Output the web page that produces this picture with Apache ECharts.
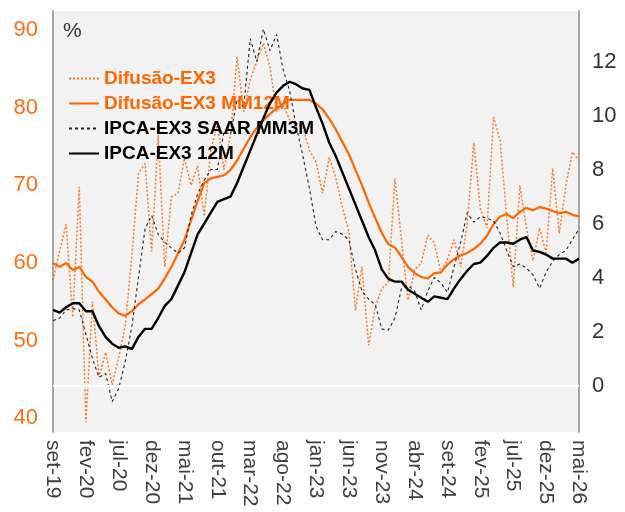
<!DOCTYPE html>
<html>
<head>
<meta charset="utf-8">
<script src="https://cdn.jsdelivr.net/npm/echarts@6/dist/echarts.min.js"></script>
<style>
  html, body { margin: 0; padding: 0; background: #fff; }
  #chart { width: 625px; height: 512px; }
</style>
</head>
<body>
<div id="chart"></div>
<script>
// 月份缩写（葡萄牙语），set-19 到 mai-26，每月一个点
const monthNames = ['jan', 'fev', 'mar', 'abr', 'mai', 'jun', 'jul', 'ago', 'set', 'out', 'nov', 'dez'];
const categories = [];
for (let k = 0; k < 81; k++) {
  const m = (8 + k) % 12;
  const y = 19 + Math.floor((8 + k) / 12);
  categories.push(monthNames[m] + '-' + y);
}

// Difusão-EX3（左轴）
const difusao = [
  57.8, 61.5, 65.0, 53.0, 69.8, 39.5, 55.0, 45.3, 48.5, 44.3,
  47.9, 52.0, 61.0, 71.5, 72.8, 61.5, 76.5, 59.5, 68.5, 69.0,
  73.5, 70.0, 72.5, 66.0, 74.5, 78.0, 72.0, 76.5, 86.5, 79.5,
  83.6, 86.0, 88.3, 85.2, 79.5, 80.5, 78.4, 78.0, 77.5, 74.5,
  73.0, 69.0, 73.6, 71.0, 67.2, 64.0, 53.9, 59.5, 49.4, 54.3,
  56.7, 57.5, 70.9, 63.0, 55.2, 59.1, 60.0, 63.6, 62.6, 58.7,
  60.5, 63.0, 59.5, 65.0, 75.5, 67.0, 64.5, 78.8, 75.8, 66.0,
  56.9, 70.0, 64.6, 60.3, 64.5, 61.3, 72.2, 63.8, 70.0, 74.3, 73.2
];

// Difusão-EX3 MM12M（左轴）
const difusaoMM12 = [
  60.0, 59.5, 60.0, 59.1, 59.5, 58.2, 57.6, 56.3, 55.3, 54.3,
  53.5, 53.2, 53.8, 54.7, 55.3, 56.0, 56.7, 58.0, 59.5, 61.2,
  63.0, 65.5, 68.0, 70.3, 70.9, 71.1, 71.3, 72.0, 73.2, 74.7,
  76.2, 77.4, 78.4, 79.2, 79.9, 80.5, 81.0, 81.0, 81.0, 81.0,
  80.5, 79.8, 78.6, 77.2, 75.6, 74.0, 72.0, 70.0, 67.8, 65.8,
  63.9, 62.4, 62.0, 60.8, 59.5, 58.7, 58.2, 58.0, 58.7, 58.8,
  59.8, 60.5, 61.0, 61.3, 61.8, 62.5, 63.5, 65.0, 66.0, 66.3,
  65.8, 66.6, 67.1, 66.8, 67.2, 67.0, 66.7, 66.4, 66.6, 66.2, 66.0
];

// IPCA-EX3 SAAR MM3M（右轴）
const ipcaSaar = [
  2.4, 2.5, 2.8, 2.85, 2.8, 1.9, 1.0, 0.3, 0.45, -0.6,
  -0.1, 0.9, 2.2, 4.0, 5.8, 6.3, 5.6, 5.3, 5.1, 4.9,
  5.1, 6.3, 7.1, 7.6, 8.0, 8.0, 9.4, 9.3, 10.6, 10.3,
  12.85, 12.0, 13.2, 12.4, 13.0, 11.7, 10.9, 9.6, 8.5, 7.3,
  5.9, 5.4, 5.4, 5.7, 5.6, 5.4, 4.3, 3.5, 3.2, 3.0,
  2.1, 2.05, 2.5, 3.6, 3.7, 3.5, 2.8, 3.5, 4.0, 3.8,
  3.45, 4.4, 5.3, 6.4, 6.05, 6.25, 6.2, 6.1, 5.65, 5.0,
  4.4, 4.5, 4.35, 4.1, 3.6, 4.2, 4.6, 4.85, 5.0, 5.4, 5.8
];

// IPCA-EX3 12M（右轴）
const ipca12 = [
  2.8, 2.7, 2.9, 3.05, 3.05, 2.75, 2.75, 2.2, 1.8, 1.55,
  1.4, 1.45, 1.35, 1.8, 2.1, 2.1, 2.5, 2.95, 3.2, 3.7,
  4.2, 4.9, 5.6, 6.0, 6.4, 6.8, 6.9, 7.0, 7.5, 8.1,
  8.7, 9.3, 9.9, 10.45, 10.85, 11.1, 11.25, 11.15, 11.0, 10.95,
  10.3, 9.7, 9.0, 8.5, 7.9, 7.3, 6.7, 6.1, 5.5, 5.0,
  4.3, 3.95, 3.85, 3.85, 3.55, 3.4, 3.25, 3.1, 3.3, 3.25,
  3.2, 3.6, 3.95, 4.25, 4.5, 4.55, 4.8, 5.1, 5.3, 5.3,
  5.25, 5.4, 5.5, 5.0, 4.95, 4.85, 4.7, 4.7, 4.7, 4.55, 4.7
];

const ORANGE = '#FF6600';
const FONT = 'Liberation Sans, Arial, sans-serif';

const chart = echarts.init(document.getElementById('chart'));

const option = {
  animation: false,
  textStyle: { fontFamily: FONT },
  grid: {
    left: 53, right: 46, top: 11, bottom: 80,
    show: true, backgroundColor: '#f2f2f2', borderWidth: 0
  },
  graphic: [{
    type: 'text', left: 63, top: 21,
    style: { text: '%', fontSize: 21, fill: '#333', fontFamily: FONT }
  }],
  legend: {
    orient: 'vertical',
    left: 68, top: 69,
    padding: 0,
    itemGap: 6,
    itemWidth: 30,
    itemHeight: 12,
    itemStyle: { opacity: 0 }, // 图例只画线，不画圆点
    textStyle: { fontSize: 19, fontWeight: 'bold', fontFamily: FONT },
    data: [
      { name: 'Difusão-EX3', textStyle: { color: ORANGE } },
      { name: 'Difusão-EX3 MM12M', textStyle: { color: ORANGE } },
      { name: 'IPCA-EX3 SAAR MM3M', textStyle: { color: '#000' } },
      { name: 'IPCA-EX3 12M', textStyle: { color: '#000' } }
    ]
  },
  xAxis: {
    type: 'category',
    data: categories,
    boundaryGap: false,
    axisLine: { show: true, lineStyle: { color: '#a6a6a6', width: 2 } },
    axisTick: { show: false },
    splitLine: { show: false },
    axisLabel: {
      interval: 4, rotate: -90, margin: 8,
      fontSize: 21, color: '#404040', fontFamily: FONT
    }
  },
  yAxis: [
    {
      type: 'value', position: 'left',
      min: 38.24, max: 92.45, splitNumber: 5,
      axisLine: { show: true, lineStyle: { color: '#a6a6a6', width: 2 } },
      axisTick: { show: false },
      splitLine: { show: false },
      axisLabel: {
        margin: 15, fontSize: 22, color: '#FF6E14', fontFamily: FONT,
        showMinLabel: false, showMaxLabel: false,
        formatter: v => (Math.abs(v % 10) < 1e-6 ? String(Math.round(v)) : '')
      }
    },
    {
      type: 'value', position: 'right',
      min: -1.72, max: 13.87, splitNumber: 8,
      axisLine: { show: true, lineStyle: { color: '#a6a6a6', width: 2 } },
      axisTick: { show: false },
      splitLine: { show: false },
      axisLabel: {
        margin: 13, fontSize: 22, color: '#333', fontFamily: FONT,
        showMinLabel: false, showMaxLabel: false,
        formatter: v => (v > -1e-6 && Math.abs(v % 2) < 1e-6 ? String(Math.round(v)) : '')
      }
    }
  ],
  series: [
    {
      name: 'Difusão-EX3', type: 'line', yAxisIndex: 0,
      data: difusao, symbol: 'none',
      lineStyle: { color: ORANGE, width: 1.5, type: [2, 2], opacity: 0.85 },
      itemStyle: { color: ORANGE }
    },
    {
      name: 'Difusão-EX3 MM12M', type: 'line', yAxisIndex: 0,
      data: difusaoMM12, symbol: 'none',
      lineStyle: { color: ORANGE, width: 2.2 },
      itemStyle: { color: ORANGE }
    },
    {
      name: 'IPCA-EX3 SAAR MM3M', type: 'line', yAxisIndex: 1,
      data: ipcaSaar, symbol: 'none', z: 3,
      lineStyle: { color: '#222', width: 1.1, type: [3, 3] },
      itemStyle: { color: '#222' },
      // 右轴 0 处的白色横线
      markLine: {
        silent: true, symbol: 'none', label: { show: false },
        lineStyle: { color: '#fff', width: 2, type: 'solid' },
        data: [{ yAxis: 0 }]
      }
    },
    {
      name: 'IPCA-EX3 12M', type: 'line', yAxisIndex: 1,
      data: ipca12, symbol: 'none', z: 4,
      lineStyle: { color: '#000', width: 2.4 },
      itemStyle: { color: '#000' }
    }
  ]
};

chart.setOption(option);
</script>
</body>
</html>
